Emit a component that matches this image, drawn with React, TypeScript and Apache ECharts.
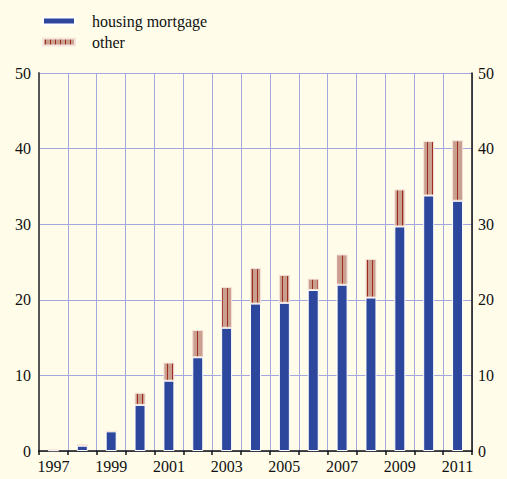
import React, { useEffect, useRef } from "react";
import * as echarts from "echarts";

const years = ["1997", "1998", "1999", "2000", "2001", "2002", "2003", "2004", "2005", "2006", "2007", "2008", "2009", "2010", "2011"];
const housingMortgage = [0.1, 0.7, 2.6, 6.1, 9.3, 12.4, 16.3, 19.5, 19.6, 21.3, 22.0, 20.3, 29.7, 33.8, 33.1];
const other = [0.1, 0.2, 0, 1.6, 2.4, 3.6, 5.4, 4.7, 3.7, 1.5, 4.0, 5.1, 4.9, 7.2, 8.0];

const BG = "#fffdea";
const FONT = "Liberation Serif";

function makePattern() {
  const c = document.createElement("canvas");
  c.width = 5;
  c.height = 4;
  const ctx = c.getContext("2d")!;
  ctx.fillStyle = "#c9a090";
  ctx.fillRect(0, 0, 5, 4);
  ctx.fillStyle = "#9e2c1e";
  ctx.fillRect(2, 0, 1, 4);
  return c;
}

export default function App() {
  const ref = useRef<HTMLDivElement>(null);
  useEffect(() => {
    const chart = echarts.init(ref.current!, null, { renderer: "svg" });
    const pattern = { image: makePattern(), repeat: "repeat" };
    const label = { fontFamily: FONT, fontSize: 16, color: "#111" };
    chart.setOption({
      animation: false,
      backgroundColor: BG,
      textStyle: { fontFamily: FONT, fontSize: 16 },
      legend: {
        left: 37,
        top: 8,
        orient: "vertical",
        itemWidth: 32,
        itemHeight: 7,
        itemGap: 5,
        icon: "rect",
        textStyle: { ...label, padding: [0, 0, 0, 12] },
        data: ["housing mortgage", "other"],
      },
      grid: { left: 39, right: 35, top: 73, bottom: 28 },
      xAxis: {
        type: "category",
        data: years,
        boundaryGap: true,
        axisLine: { lineStyle: { color: "#111", width: 1.5 } },
        axisTick: { show: true, interval: 0, length: 4, lineStyle: { color: "#111", width: 1.5 } },
        axisLabel: { interval: 1, margin: 7, ...label },
        splitLine: { show: true, interval: 0, lineStyle: { color: "#a4a8e0", width: 1 } },
      },
      yAxis: [
        {
          type: "value",
          min: 0,
          max: 50,
          interval: 10,
          position: "left",
          axisLine: { show: true, lineStyle: { color: "#555", width: 2 } },
          axisTick: { show: false },
          axisLabel: { margin: 8, ...label },
          splitLine: { show: true, lineStyle: { color: "#a4a8e0", width: 1 } },
        },
        {
          type: "value",
          min: 0,
          max: 50,
          interval: 10,
          position: "right",
          axisLine: { show: true, lineStyle: { color: "#111", width: 1.5 } },
          axisTick: { show: false },
          axisLabel: { margin: 6, ...label },
          splitLine: { show: false },
        },
      ],
      series: [
        {
          name: "housing mortgage",
          type: "bar",
          stack: "total",
          data: housingMortgage,
          barWidth: 11,
          itemStyle: { color: "#2d479c", borderColor: "#ffffff", borderWidth: 1 },
        },
        {
          name: "other",
          type: "bar",
          stack: "total",
          data: other,
          barWidth: 11,
          itemStyle: { color: pattern, borderColor: "#f6e4dc", borderWidth: 1 },
        },
      ],
    });
    return () => chart.dispose();
  }, []);
  return (
    <div style={{ position: "fixed", left: 0, top: 0, width: 507, height: 479, background: BG }}>
      <style>{`#root svg text { font-family: "Liberation Serif", "Times New Roman", serif !important; }`}</style>
      <div ref={ref} style={{ width: 507, height: 479 }} />
    </div>
  );
}
